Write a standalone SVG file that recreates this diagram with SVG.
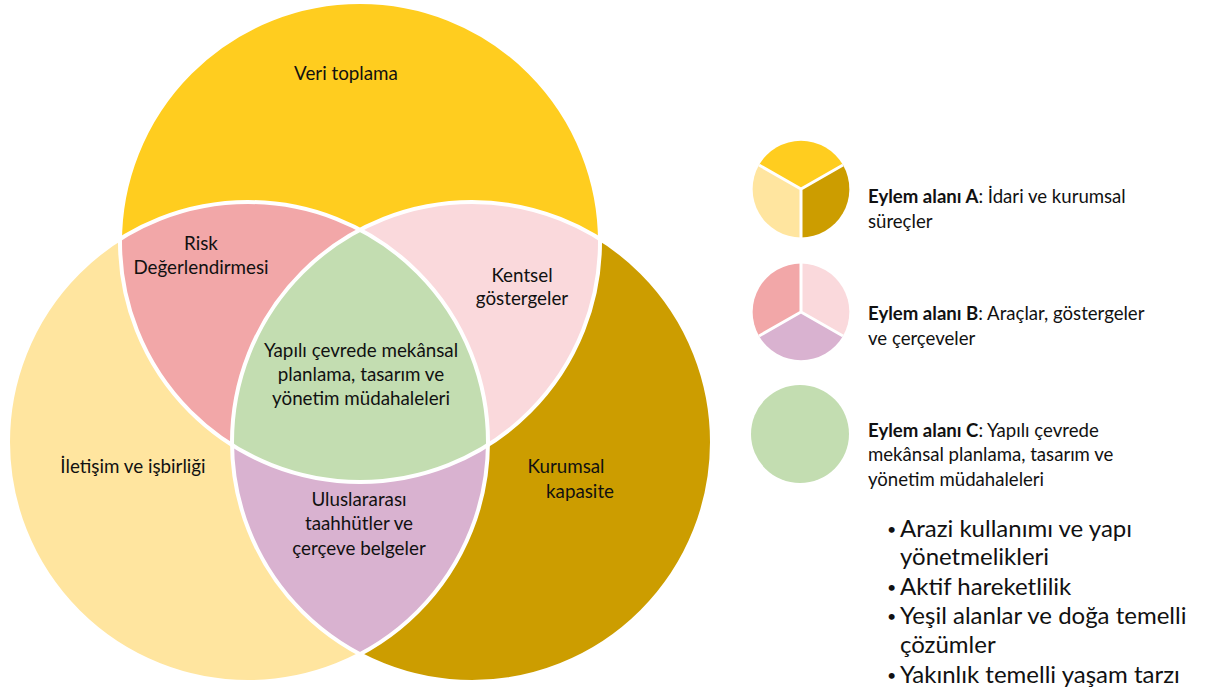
<svg xmlns="http://www.w3.org/2000/svg" width="1211" height="691" viewBox="0 0 1211 691">
<style>
text{font-family:Lato,"Open Sans","Liberation Sans",sans-serif;fill:#111;}
.v{font-size:18.8px;text-anchor:middle;}
.lg{font-size:18.6px;}
.b{font-weight:bold;}
.bl{font-size:24px;}
.dot{font-size:16px;}
.edge{fill:none;stroke:#fff;stroke-width:4;}
</style>
<defs>
<clipPath id="cTop"><circle cx="360" cy="242" r="240"/></clipPath>
<clipPath id="cLeft"><circle cx="248" cy="442" r="240"/></clipPath>
<clipPath id="cRight"><circle cx="472" cy="442" r="240"/></clipPath>
</defs>
<rect width="1211" height="691" fill="#fff"/>
<g id="venn">
<g id="left"><circle cx="248" cy="442" r="240" fill="#FFE59F"/></g>
<g id="right"><circle cx="472" cy="442" r="240" fill="#CC9D00"/></g>
<g id="top"><circle cx="360" cy="242" r="240" fill="#FFCD1F"/></g>
<g id="risk" clip-path="url(#cTop)"><circle cx="248" cy="442" r="240" fill="#F2A7A8"/></g>
<g id="kentsel" clip-path="url(#cTop)"><circle cx="472" cy="442" r="240" fill="#FAD9DC"/></g>
<g id="ulus" clip-path="url(#cLeft)"><circle cx="472" cy="442" r="240" fill="#D9B2D0"/></g>
<g id="center" clip-path="url(#cTop)"><g clip-path="url(#cLeft)"><circle cx="472" cy="442" r="240" fill="#C3DDB1"/></g></g>
<g id="edges">
<circle class="edge" cx="360" cy="242" r="240"/>
<circle class="edge" cx="248" cy="442" r="240"/>
<circle class="edge" cx="472" cy="442" r="240"/>
</g>
</g>
<g id="labels">
<text class="v" x="346" y="80">Veri toplama</text>
<text class="v" x="201" y="250">Risk</text>
<text class="v" x="201" y="274">Değerlendirmesi</text>
<text class="v" x="522" y="282">Kentsel</text>
<text class="v" x="522" y="305">göstergeler</text>
<text class="v" x="361" y="357">Yapılı çevrede mekânsal</text>
<text class="v" x="361" y="381">planlama, tasarım ve</text>
<text class="v" x="361" y="405">yönetim müdahaleleri</text>
<text class="v" x="133" y="473">İletişim ve işbirliği</text>
<text class="v" x="566" y="473">Kurumsal</text>
<text class="v" x="580" y="498">kapasite</text>
<text class="v" x="359" y="506">Uluslararası</text>
<text class="v" x="359" y="530">taahhütler ve</text>
<text class="v" x="359" y="555">çerçeve belgeler</text>
</g>
<g id="legendA">
<path d="M801,189 L759,165 A48.5,48.5 0 0 1 843,165 Z" fill="#FFCD1F"/>
<path d="M801,189 L759,165 A48.5,48.5 0 0 0 801,237.5 Z" fill="#FFE59F"/>
<path d="M801,189 L843,165 A48.5,48.5 0 0 1 801,237.5 Z" fill="#CC9D00"/>
<path d="M759,165 L801,189 L843,165 M801,189 L801,238" fill="none" stroke="#fff" stroke-width="3"/>
<text class="lg" x="868" y="203"><tspan class="b">Eylem alanı A</tspan>: İdari ve kurumsal</text>
<text class="lg" x="868" y="228">süreçler</text>
</g>
<g id="legendB">
<path d="M801,312 L801,263.5 A48.5,48.5 0 0 1 843,336 Z" fill="#FAD9DC"/>
<path d="M801,312 L801,263.5 A48.5,48.5 0 0 0 759,336 Z" fill="#F2A7A8"/>
<path d="M801,312 L759,336 A48.5,48.5 0 0 0 843,336 Z" fill="#D9B2D0"/>
<path d="M801,263 L801,312 L759,336 M801,312 L843,336" fill="none" stroke="#fff" stroke-width="3"/>
<text class="lg" x="868" y="320"><tspan class="b">Eylem alanı B</tspan>: Araçlar, göstergeler</text>
<text class="lg" x="868" y="345">ve çerçeveler</text>
</g>
<g id="legendC">
<circle cx="800" cy="434" r="49" fill="#C3DDB1"/>
<text class="lg" x="868" y="437"><tspan class="b">Eylem alanı C</tspan>: Yapılı çevrede</text>
<text class="lg" x="868" y="461">mekânsal planlama, tasarım ve</text>
<text class="lg" x="868" y="486">yönetim müdahaleleri</text>
</g>
<g id="bullets">
<text class="dot" x="887" y="535">•</text>
<text class="bl" x="900" y="537">Arazi kullanımı ve yapı</text>
<text class="bl" x="900" y="565">yönetmelikleri</text>
<text class="dot" x="887" y="593">•</text>
<text class="bl" x="900" y="595">Aktif hareketlilik</text>
<text class="dot" x="887" y="622">•</text>
<text class="bl" x="900" y="624">Yeşil alanlar ve doğa temelli</text>
<text class="bl" x="900" y="653">çözümler</text>
<text class="dot" x="887" y="681">•</text>
<text class="bl" x="900" y="683">Yakınlık temelli yaşam tarzı</text>
</g>
</svg>
